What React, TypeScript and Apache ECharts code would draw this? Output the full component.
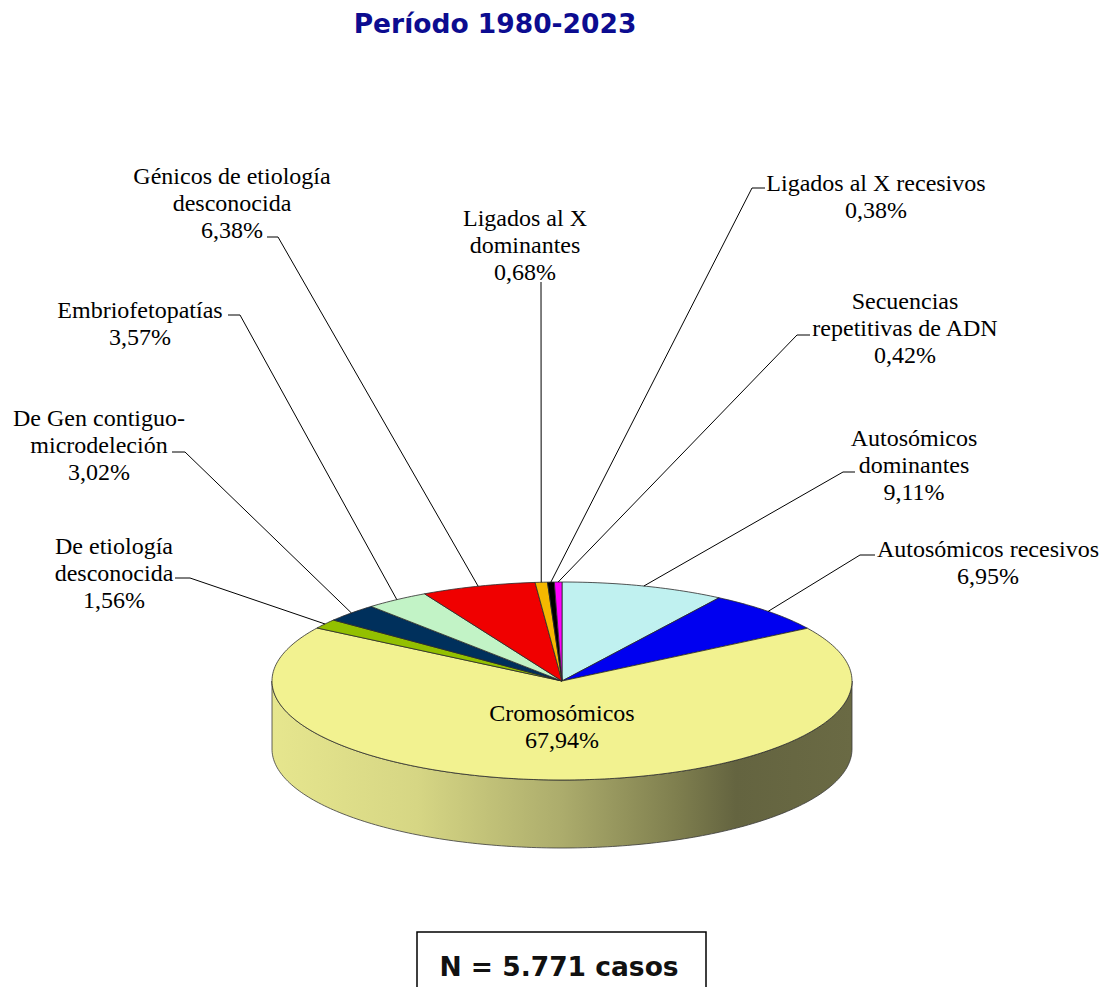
import React, { useEffect, useRef } from "react";
import * as echarts from "echarts";

// ---- Data ----
const categories = [
  "Autosómicos dominantes",
  "Autosómicos recesivos",
  "Cromosómicos",
  "De etiología desconocida",
  "De Gen contiguo-microdeleción",
  "Embriofetopatías",
  "Génicos de etiología desconocida",
  "Ligados al X dominantes",
  "Ligados al X recesivos",
  "Secuencias repetitivas de ADN",
];
const percentages = [9.11, 6.95, 67.94, 1.56, 3.02, 3.57, 6.38, 0.68, 0.38, 0.42];
const labelNames = [
  "Autosómicos\ndominantes",
  "Autosómicos recesivos",
  "Cromosómicos",
  "De etiología\ndesconocida",
  "De Gen contiguo-\nmicrodeleción",
  "Embriofetopatías",
  "Génicos de etiología\ndesconocida",
  "Ligados al X\ndominantes",
  "Ligados al X recesivos",
  "Secuencias\nrepetitivas de ADN",
];
const titleText = "Período 1980-2023";
const totalText = "N = 5.771 casos";

// ---- Styles / layout ----
const sliceColors = [
  "#c0f1f0",
  "#0000f0",
  "#f2f290",
  "#93c000",
  "#00305c",
  "#c2f3c6",
  "#f00000",
  "#f5b800",
  "#000000",
  "#ff00ff",
];
// label layout: x = text centre, y = top of first line, leader: text-side x, elbow x, y
const labelLayout = [
  { x: 914, y: 424, lx: 855, ex: 843, ly: 472 },
  { x: 988, y: 535, lx: 875, ex: 860, ly: 555 },
  { x: 562, y: 699, inside: true },
  { x: 114, y: 532, lx: 175, ex: 190, ly: 578 },
  { x: 99, y: 404, lx: 172, ex: 185, ly: 452 },
  { x: 140, y: 296, lx: 228, ex: 240, ly: 315 },
  { x: 232, y: 162, lx: 267, ex: 278, ly: 237 },
  { x: 525, y: 204, lx: 541, ex: 541, ly: 282 },
  { x: 876, y: 169, lx: 765, ex: 752, ly: 188 },
  { x: 905, y: 287, lx: 810, ex: 797, ly: 335 },
];

const CX = 562;
const CY = 681;
const RX = 290;
const RY = 99;
const DEPTH = 68;

const total = percentages.reduce((a, b) => a + b, 0);
const cumStart: number[] = [];
{
  let acc = 0;
  for (const v of percentages) {
    cumStart.push(acc);
    acc += v;
  }
}
const toTheta = (frac: number) => 90 - 360 * frac; // degrees, clockwise from top
const pt = (thDeg: number, dy = 0) => {
  const t = (thDeg * Math.PI) / 180;
  return [CX + RX * Math.cos(t), CY - RY * Math.sin(t) + dy];
};
const arcPoints = (a: number, b: number, dy = 0) => {
  const pts: number[][] = [];
  const n = Math.max(2, Math.ceil(Math.abs(a - b)));
  for (let i = 0; i <= n; i++) pts.push(pt(a + ((b - a) * i) / n, dy));
  return pts;
};
const fmt = (v: number) => v.toFixed(2).replace(".", ",") + "%";

export default function App() {
  const ref = useRef<HTMLDivElement>(null);
  useEffect(() => {
    if (!ref.current) return;
    const chart = echarts.init(ref.current, undefined, { renderer: "svg" });
    const sideGradient = new echarts.graphic.LinearGradient(
      CX - RX,
      0,
      CX + RX,
      0,
      [
        { offset: 0, color: "#e6e68e" },
        { offset: 0.25, color: "#d6d684" },
        { offset: 0.5, color: "#acac6c" },
        { offset: 0.7, color: "#7e7e4e" },
        { offset: 0.8, color: "#646440" },
        { offset: 1, color: "#6a6a44" },
      ],
      true
    );
    const renderItem = (params: any, api: any) => {
      const i = params.dataIndex;
      const v = api.value(0);
      const a = toTheta(cumStart[i] / total);
      const b = toTheta((cumStart[i] + v) / total);
      const children: any[] = [];
      const windows = [
        [0, -180],
        [-360, -540],
      ];
      for (const [w1, w2] of windows) {
        const s = Math.min(a, w1);
        const e = Math.max(b, w2);
        if (s > e) {
          const top = arcPoints(s, e, 0);
          const bot = arcPoints(e, s, DEPTH);
          children.push({
            type: "polygon",
            shape: { points: top.concat(bot) },
            style: { fill: sideGradient, stroke: "#3a3a3a", lineWidth: 0.8 },
          });
        }
      }
      children.push({
        type: "polygon",
        shape: { points: [[CX, CY]].concat(arcPoints(a, b, 0)) },
        style: { fill: sliceColors[i], stroke: "#2a2a2a", lineWidth: 0.8 },
      });
      const lay: any = labelLayout[i];
      const txt = labelNames[i] + "\n" + fmt(v);
      children.push({
        type: "text",
        x: lay.x,
        y: lay.y,
        style: {
          text: txt,
          fontSize: 24,
          fontFamily: '"Liberation Serif", "Times New Roman", serif',
          align: "center",
          verticalAlign: "top",
          lineHeight: 27,
          fill: "#000",
        },
      });
      if (!lay.inside) {
        const mid = toTheta((cumStart[i] + v / 2) / total);
        const anchor = pt(mid, 0);
        children.push({
          type: "polyline",
          shape: { points: [[lay.lx, lay.ly], [lay.ex, lay.ly], anchor] },
          style: { stroke: "#000", lineWidth: 1, fill: null },
        });
      }
      return { type: "group", children };
    };

    chart.setOption({
      animation: false,
      graphic: [
        {
          type: "text",
          x: 495,
          y: 23,
          style: {
            text: titleText,
            fontSize: 26.5,
            fontWeight: "bold",
            fontFamily: '"DejaVu Sans", sans-serif',
            fill: "#0c0c90",
            align: "center",
            verticalAlign: "middle",
          },
        },
        {
          type: "rect",
          shape: { x: 417, y: 932, width: 289, height: 80 },
          style: { fill: "#fff", stroke: "#000", lineWidth: 1.5 },
        },
        {
          type: "text",
          x: 559,
          y: 966,
          style: {
            text: totalText,
            fontSize: 26.5,
            fontWeight: "bold",
            fontFamily: '"DejaVu Sans", sans-serif',
            fill: "#111",
            align: "center",
            verticalAlign: "middle",
          },
        },
      ],
      series: [
        {
          type: "custom",
          coordinateSystem: "none",
          silent: true,
          renderItem,
          data: percentages.map((v, k) => ({ name: categories[k], value: [v] })),
        },
      ],
    });
    return () => chart.dispose();
  }, []);
  return (
    <div
      ref={ref}
      style={{ position: "fixed", left: 0, top: 0, width: 1108, height: 987, background: "#fff" }}
    />
  );
}
